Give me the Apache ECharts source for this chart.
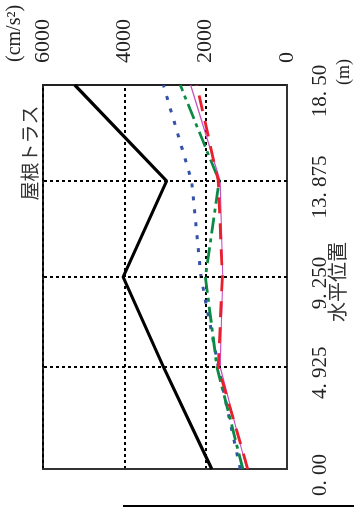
<!DOCTYPE html>
<html>
<head>
<meta charset="utf-8">
<script src="https://cdn.jsdelivr.net/npm/echarts@6/dist/echarts.min.js"></script>
<style>
html,body{margin:0;padding:0;background:#fff;overflow:hidden;}
#wrap{position:absolute;left:0;top:0;width:507px;height:354px;transform-origin:0 0;transform:translateY(507px) rotate(-90deg);}
</style>
</head>
<body>
<div id="wrap"></div>
<script>
// Horizontal positions (m)
const positions = [0, 4.925, 9.25, 13.875, 18.5];
const posTickLabels = ['0. 00', '4. 925', '9. 250', '13. 875', '18. 50'];
const gridPositions = [4.925, 9.25, 13.875];
// Acceleration values (cm/s^2)
const seriesBlack = [1850, 3040, 4030, 2960, 5220];
const seriesBlue = [1150, 1690, 2115, 2345, 3040];
const seriesGreen = [1085, 1725, 2005, 1670, 2625];
const seriesRed = [965, 1690, 1590, 1690, 2220];
const seriesMagenta = [990, 1645, 1580, 1645, 2370];
const accTicks = [0, 2000, 4000, 6000];
const titleText = '屋根トラス';
const xName = '水平位置';
const xUnit = '(m)';
const yUnit = '(cm/s²)';

const pairs = arr => arr.map((v, i) => [positions[i], v]);
const numFont = "'Liberation Serif','DejaVu Serif',serif";
const jpFont = "'Noto Sans CJK JP','Noto Sans CJK SC',sans-serif";

const chart = echarts.init(document.getElementById('wrap'), null, {renderer: 'canvas'});
function mk(name, data, color, width, type, z) {
  return {name, type: 'line', data: pairs(data), symbol: 'none', z,
    lineStyle: {color, width, type, cap: 'butt'}, animation: false};
}
chart.setOption({
  animation: false,
  grid: {left: 38, right: 85, top: 43, bottom: 67, show: true, borderColor: '#222', borderWidth: 2},
  xAxis: {
    type: 'value', min: 0, max: 18.5,
    axisLine: {show: true, lineStyle: {color: '#333', width: 2}},
    axisTick: {show: false},
    splitLine: {show: false},
    axisLabel: {
      customValues: positions,
      formatter: v => posTickLabels[positions.indexOf(v)],
      fontFamily: numFont, fontSize: 21, color: '#222', margin: 23,
      padding: [0, 12, 0, 0], showMinLabel: true, showMaxLabel: true
    }
  },
  yAxis: {
    type: 'value', min: 0, max: 6000, interval: 2000, position: 'right',
    axisLine: {show: true, lineStyle: {color: '#333', width: 2}},
    axisTick: {show: false},
    splitLine: {show: true, lineStyle: {color: '#000', width: 2, type: [3, 3]}},
    axisLabel: {fontFamily: numFont, fontSize: 22, color: '#222', margin: 22,
      padding: [5, 0, 0, 0],
      formatter: v => accTicks.indexOf(v) >= 0 ? String(v) : ''}
  },
  series: [
    {type: 'line', data: [], silent: true, z: 1,
      markLine: {symbol: 'none', silent: true, animation: false, label: {show: false},
        lineStyle: {color: '#000', width: 2, type: [3, 3]},
        data: gridPositions.map(v => ({xAxis: v}))}},
    mk('magenta', seriesMagenta, '#c84fc0', 1.2, 'solid', 3),
    mk('blue', seriesBlue, '#3352a8', 3, [4, 9], 4),
    mk('green', seriesGreen, '#0b8a45', 2.8, [16, 5, 4, 5], 5),
    mk('red', seriesRed, '#e8202c', 2.8, [16, 10], 6),
    mk('black', seriesBlack, '#000000', 3.2, 'solid', 7)
  ],
  graphic: [
    {type: 'text', x: 354, y: 20, style: {text: titleText, font: "19px " + jpFont, fill: '#333', textAlign: 'center'}},
    {type: 'text', x: 445, y: 5, style: {text: yUnit, font: "20px " + numFont, fill: '#222'}},
    {type: 'text', x: 422, y: 335, style: {text: xUnit, font: "18px " + numFont, fill: '#222'}},
    {type: 'text', x: 185, y: 327, style: {text: xName, font: "20px " + jpFont, fill: '#333'}},
    {type: 'line', shape: {x1: 1, y1: 123, x2: 1, y2: 354}, style: {stroke: '#000', lineWidth: 2}}
  ]
});
</script>
</body>
</html>
